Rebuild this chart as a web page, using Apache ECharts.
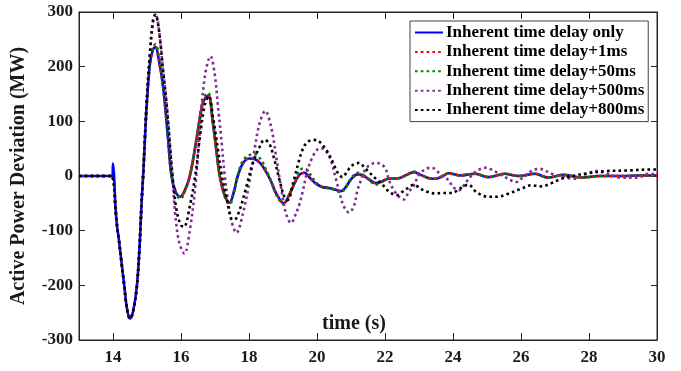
<!DOCTYPE html>
<html><head><meta charset="utf-8">
<script src="https://cdn.jsdelivr.net/npm/echarts@6/dist/echarts.min.js"></script>
<style>html,body{margin:0;padding:0;background:#fff}#c{width:681px;height:371px}</style>
</head><body><div id="c"></div>
<script>
const seriesNames = ['Inherent time delay only','Inherent time delay+1ms','Inherent time delay+50ms','Inherent time delay+500ms','Inherent time delay+800ms'];
const xTicks = [14,16,18,20,22,24,26,28,30];
const yTicks = [-300,-200,-100,0,100,200,300];

const tBase = [13.0,13.98,14.0,14.03,14.07,14.12,14.17,14.25,14.33,14.41,14.5,14.59,14.7,14.78,14.84,14.89,14.99,15.09,15.18,15.25,15.35,15.48,15.62,15.72,15.85,15.98,16.1,16.26,16.46,16.65,16.8,16.94,17.04,17.14,17.3,17.43,17.55,17.67,17.82,18.0,18.16,18.35,18.5,18.65,18.8,19.02,19.2,19.38,19.5,19.63,19.8,19.97,20.15,20.36,20.55,20.7,20.85,21.0,21.19,21.35,21.55,21.72,21.9,22.1,22.4,22.6,22.85,23.05,23.3,23.5,23.7,23.87,24.2,24.65,25.04,25.53,25.92,26.41,26.8,27.24,27.8,28.3,29.0,29.5,30.0];
const vBlue = [0,0,23,2,-55,-92,-115,-158,-200,-242,-261,-248,-203,-130,-50,5,128,207,232,236,212,160,68,0,-30,-38,-28,0,68,135,147,96,47,0,-38,-49,-30,0,23,32,31,22,8,-10,-32,-50,-32,-8,3,6,-4,-14,-20,-22,-25,-28,-20,-6,3,1,-7,-13,-10,-5,-4,1,7,2,-4,-5,0,5,1,4,-2,4,0,4,-3,2,-3,0,0,1,1];
const vRed = [0,0,0,-15,-55,-92,-115,-158,-200,-242,-261,-248,-203,-130,-50,5,128,207,232,236,212,160,68,0,-30,-38,-28,0,68,135,147,96,47,0,-38,-49,-30,0,23,32,31,22,8,-10,-32,-50,-32,-8,3,6,-4,-14,-20,-22,-25,-28,-20,-6,3,1,-7,-13,-10,-5,-4,1,7,2,-4,-5,0,5,1,4,-2,4,0,4,-3,2,-3,0,0,1,1];
const vGreen = [0,0,0,-20,-55,-92,-115,-158,-200,-242,-261,-248,-203,-130,-50,5,130,210,236,241,218,163,68,0,-32,-42,-30,0,70,140,152,98,47,0,-40,-52,-30,2,28,38,40,30,12,-10,-34,-52,-32,-5,11,14,3,-12,-20,-23,-26,-30,-20,-5,6,2,-8,-16,-11,-5,-4,1,8,2,-4,-5,0,5,1,4,-2,4,0,4,-3,2,-3,0,0,1,1];

const tPurple = [13.0,13.98,14.0,14.03,14.07,14.12,14.17,14.25,14.33,14.41,14.5,14.59,14.7,14.78,14.84,14.89,14.99,15.09,15.18,15.25,15.35,15.47,15.58,15.67,15.75,15.83,15.95,16.1,16.26,16.42,16.55,16.7,16.87,16.99,17.09,17.19,17.28,17.38,17.48,17.63,17.82,18.02,18.16,18.31,18.48,18.65,18.8,18.94,19.09,19.24,19.38,19.48,19.58,19.72,19.87,20.02,20.12,20.27,20.41,20.55,20.68,20.8,20.94,21.09,21.19,21.29,21.43,21.58,21.73,21.88,22.02,22.12,22.26,22.41,22.55,22.7,22.85,22.99,23.2,23.38,23.6,23.87,24.0,24.17,24.4,24.65,24.95,25.25,25.53,25.87,26.1,26.41,26.56,26.9,27.19,27.58,27.9,28.2,28.5,28.95,29.44,29.74,30.0];
const vPurple = [0,0,0,-15,-55,-92,-115,-158,-200,-242,-261,-248,-203,-130,-50,5,135,228,285,297,268,195,129,60,0,-70,-122,-142,-99,-20,80,182,219,187,126,65,4,-44,-81,-104,-69,-8,47,96,119,90,35,-20,-69,-86,-69,-52,-28,10,35,49,51,45,28,-4,-35,-57,-67,-54,-26,-8,13,21,24,22,13,-8,-26,-38,-43,-29,-17,1,13,15,5,-8,-20,-26,-10,7,15,8,-2,-11,0,12,13,4,-1,-5,3,9,5,-3,-3,4,3];

const tBlack = [13.0,13.98,14.0,14.03,14.07,14.12,14.17,14.25,14.33,14.41,14.5,14.59,14.7,14.78,14.84,14.89,14.99,15.09,15.18,15.25,15.35,15.47,15.58,15.67,15.75,15.87,16.0,16.09,16.25,16.43,16.55,16.7,16.82,16.94,17.09,17.19,17.33,17.48,17.57,17.72,17.92,18.11,18.31,18.45,18.6,18.75,18.9,19.04,19.14,19.3,19.48,19.6,19.72,19.87,20.02,20.17,20.31,20.46,20.6,20.75,20.9,21.05,21.24,21.39,21.53,21.73,21.9,22.07,22.2,22.36,22.51,22.65,22.85,23.04,23.24,23.48,23.7,23.97,24.2,24.45,24.7,25.04,25.3,25.6,26.02,26.3,26.6,26.9,27.19,27.58,27.97,28.5,29.1,29.83,30.0];
const vBlack = [0,0,0,-15,-55,-92,-115,-158,-200,-242,-261,-248,-203,-130,-50,5,135,228,285,295,268,195,129,60,0,-63,-90,-93,-58,5,69,130,146,108,47,4,-38,-78,-80,-63,-20,23,53,66,59,29,-8,-38,-44,-12,30,52,62,66,65,56,44,26,7,-2,10,20,24,16,7,-5,-14,-26,-32,-35,-29,-23,-16,-23,-29,-32,-31,-31,-23,-16,-30,-38,-38,-33,-23,-17,-19,-13,-5,1,5,9,10,12,12];

function pairs(t, v) { return t.map((x, i) => [x, v[i]]); }

const font = '"Liberation Serif", "Times New Roman", serif';
const txt = '#1a1a1a';
const chart = echarts.init(document.getElementById('c'), null, {renderer: 'canvas'});

function mk(name, t, v, color, dotted, w) {
  return {
    name, type: 'line', xAxisIndex: 0, yAxisIndex: 0,
    data: pairs(t, v), symbol: 'none', showSymbol: false,
    smooth: 0.35, animation: false,
    lineStyle: {color, width: w, type: dotted ? [2.6, 3.2] : 'solid', cap: 'butt'},
    itemStyle: {color}
  };
}

chart.setOption({
  animation: false,
  backgroundColor: '#fff',
  grid: {left: 79, right: 24, top: 12, bottom: 31, show: true, borderColor: '#262626', borderWidth: 1},
  legend: {
    data: seriesNames, orient: 'vertical', left: 410, top: 21,
    padding: [3, 4, 3, 4], itemWidth: 28, itemHeight: 14, itemGap: 2.4,
    backgroundColor: '#fff', borderColor: '#444', borderWidth: 1,
    itemStyle: {opacity: 0},
    textStyle: {fontFamily: font, fontWeight: 'bold', fontSize: 17, color: '#000', lineHeight: 17, padding: [0,0,0,-2]}
  },
  xAxis: [{
    type: 'value', min: 13, max: 30, position: 'bottom',
    axisLine: {show: true, onZero: false, lineStyle: {color: '#262626'}},
    axisTick: {inside: true, length: 7, customValues: xTicks, lineStyle: {color: '#262626'}},
    axisLabel: {customValues: xTicks, margin: 9, fontFamily: font, fontWeight: 'bold', fontSize: 17, color: txt},
    splitLine: {show: false}
  }, {
    type: 'value', min: 13, max: 30, position: 'top',
    axisLine: {show: true, onZero: false, lineStyle: {color: '#262626'}},
    axisTick: {inside: true, length: 7, customValues: xTicks, lineStyle: {color: '#262626'}},
    axisLabel: {show: false}, splitLine: {show: false}
  }],
  yAxis: [{
    type: 'value', min: -300, max: 300, interval: 100, position: 'left',
    name: 'Active Power Deviation (MW)', nameLocation: 'middle', nameGap: 50,
    nameTextStyle: {fontFamily: font, fontWeight: 'bold', fontSize: 20, color: txt},
    axisLine: {show: true, onZero: false, lineStyle: {color: '#262626'}},
    axisTick: {inside: true, length: 6, lineStyle: {color: '#262626'}},
    axisLabel: {margin: 6, fontFamily: font, fontWeight: 'bold', fontSize: 17, color: txt},
    splitLine: {show: false}
  }, {
    type: 'value', min: -300, max: 300, interval: 100, position: 'right',
    axisLine: {show: true, onZero: false, lineStyle: {color: '#262626'}},
    axisTick: {inside: true, length: 6, lineStyle: {color: '#262626'}},
    axisLabel: {show: false}, splitLine: {show: false}
  }],
  graphic: [{
    type: 'text', x: 354, y: 324, z: 10,
    style: {text: 'time (s)', font: 'bold 20px ' + font, fill: txt, align: 'center', verticalAlign: 'middle'}
  }],
  series: [
    mk(seriesNames[0], tBase, vBlue, '#0000ff', false, 2.6),
    mk(seriesNames[1], tBase, vRed, '#ff0000', true, 2.6),
    mk(seriesNames[2], tBase, vGreen, '#008000', true, 2.6),
    mk(seriesNames[3], tPurple, vPurple, '#7e2f8e', true, 2.6),
    mk(seriesNames[4], tBlack, vBlack, '#000000', true, 2.6)
  ]
});
</script></body></html>
